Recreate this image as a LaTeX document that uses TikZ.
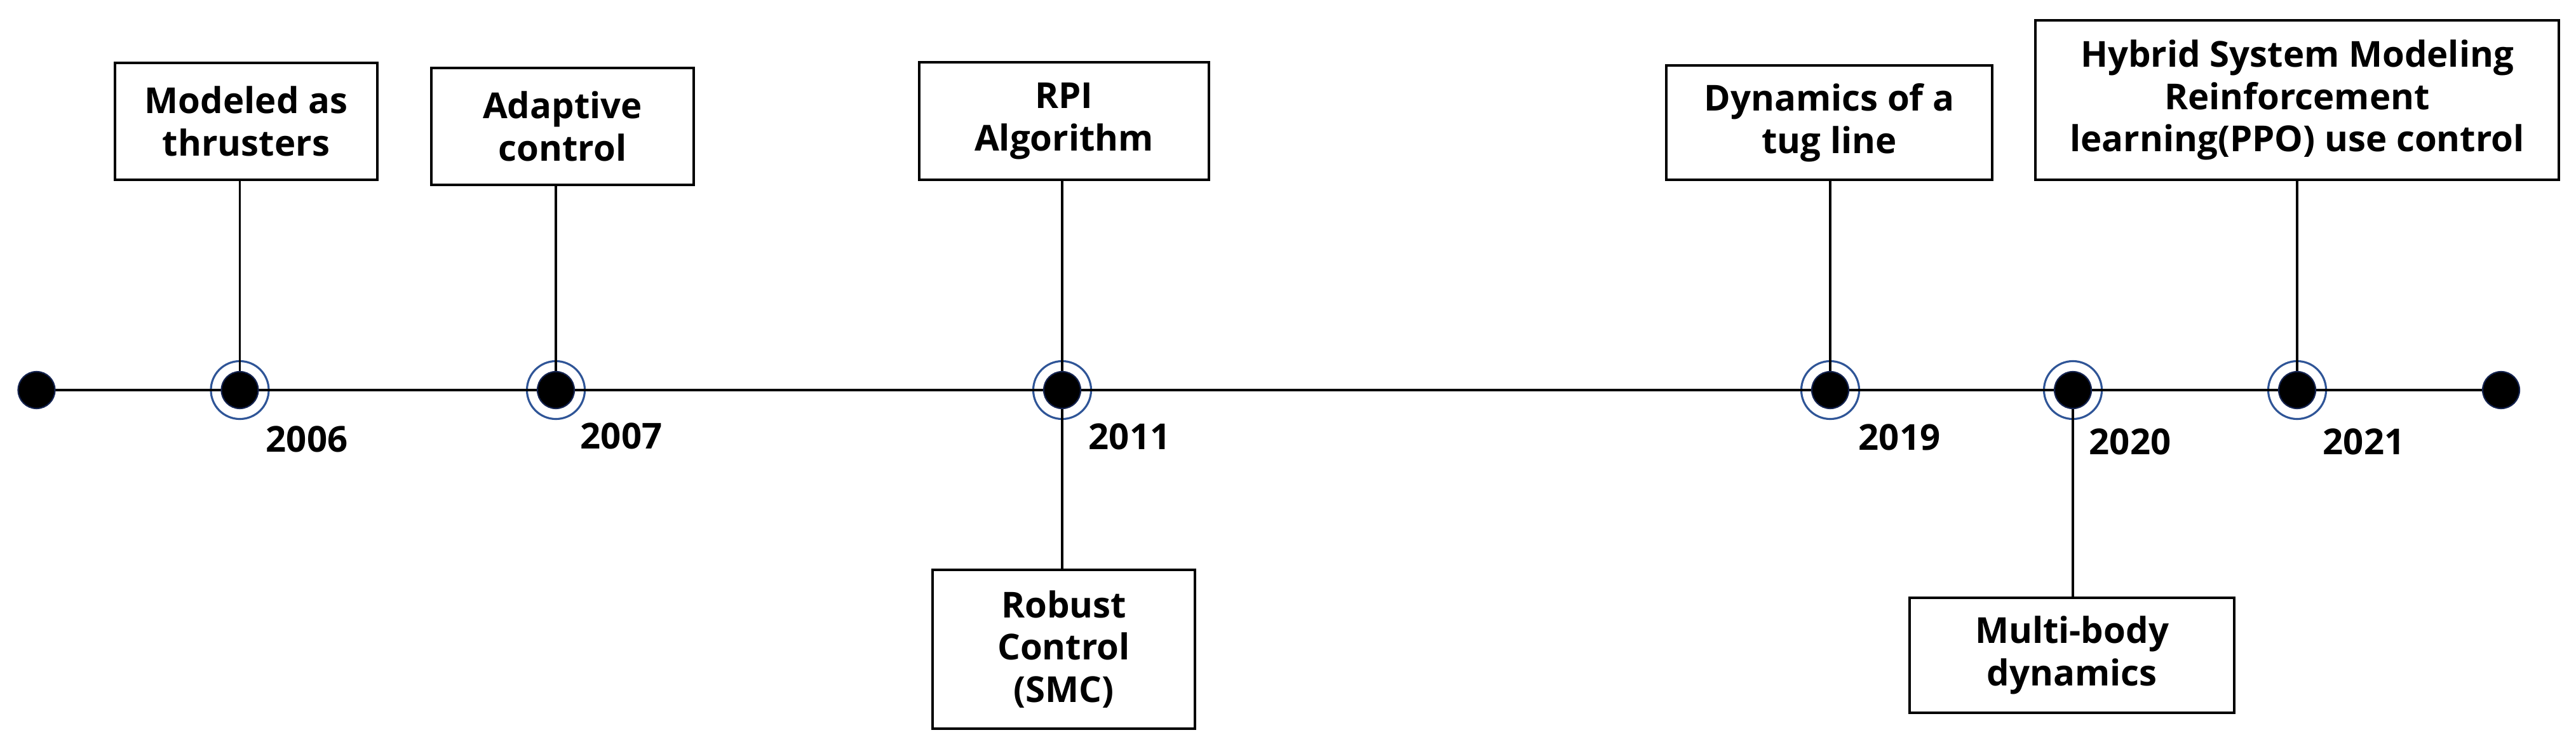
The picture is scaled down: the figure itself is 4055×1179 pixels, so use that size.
\documentclass[tikz,border=0pt]{standalone}
\usepackage{fontspec}
\setmainfont{Open Sans}
\definecolor{ringblue}{RGB}{47,85,151}
\definecolor{dotnavy}{RGB}{20,35,80}
\begin{document}
\begin{tikzpicture}[x=0.01cm,y=-0.01cm,
  txt/.style={font=\bfseries\fontsize{16}{19}\selectfont},
  box/.style={txt, draw=black, line width=1.05pt, align=center, inner sep=0pt},
  yearlabel/.style={txt, inner sep=0pt},
  ring/.style={circle, draw=ringblue, line width=0.9pt, minimum size=0.91cm, inner sep=0pt},
  dot/.style={circle, fill=black, draw=dotnavy, line width=0.6pt, minimum size=0.58cm, inner sep=0pt},
  conn/.style={line width=1.05pt, draw=black}]
\useasboundingbox (0,0) rectangle (4055,1179);

% timeline points
\coordinate (s) at (57.5,614);
\coordinate (d1) at (377.5,614);
\coordinate (d2) at (875,614);
\coordinate (d3) at (1672,614);
\coordinate (d4) at (2881,614);
\coordinate (d5) at (3263,614);
\coordinate (d6) at (3616,614);
\coordinate (e) at (3937,614);

% boxes
\node[box, minimum width=4.13cm, minimum height=1.845cm] (b1) at (387.5,191) {Modeled as\\thrusters};
\node[box, minimum width=4.13cm, minimum height=1.84cm] (b2) at (885.5,199) {Adaptive\\control};
\node[box, minimum width=4.56cm, minimum height=1.85cm] (b3) at (1675,190.5) {RPI\\Algorithm};
\node[box, minimum width=4.13cm, minimum height=2.5cm] (b4) at (1674.5,1022) {Robust\\Control\\(SMC)};
\node[box, minimum width=5.13cm, minimum height=1.8cm] (b5) at (2879.5,193) {Dynamics of a\\tug line};
\node[box, minimum width=8.24cm, minimum height=2.51cm] (b6) at (3616,157.5) {Hybrid System Modeling\\Reinforcement\\learning(PPO) use control};
\node[box, minimum width=5.11cm, minimum height=1.81cm] (b7) at (3261.5,1031.5) {Multi-body\\dynamics};

% rings
\foreach \p in {d1,d2,d3,d4,d5,d6} \node[ring] at (\p) {};

% timeline and connectors
\draw[conn] (s) -- (e);
\draw[conn] (b1.south -| d1) -- (d1);
\draw[conn] (b2.south -| d2) -- (d2);
\draw[conn] (b3.south -| d3) -- (b4.north -| d3);
\draw[conn] (b5.south -| d4) -- (d4);
\draw[conn] (d5) -- (b7.north -| d5);
\draw[conn] (b6.south -| d6) -- (d6);

% dots
\foreach \p in {s,d1,d2,d3,d4,d5,d6,e} \node[dot] at (\p) {};

% year labels
\node[yearlabel] (y1) at (483,691) {2006};
\node[yearlabel] (y2) at (978,686) {2007};
\node[yearlabel] (y3) at (1778,687) {2011};
\node[yearlabel] (y4) at (2990,688) {2019};
\node[yearlabel] (y5) at (3353,695) {2020};
\node[yearlabel] (y6) at (3721,695) {2021};
\end{tikzpicture}
\end{document}
